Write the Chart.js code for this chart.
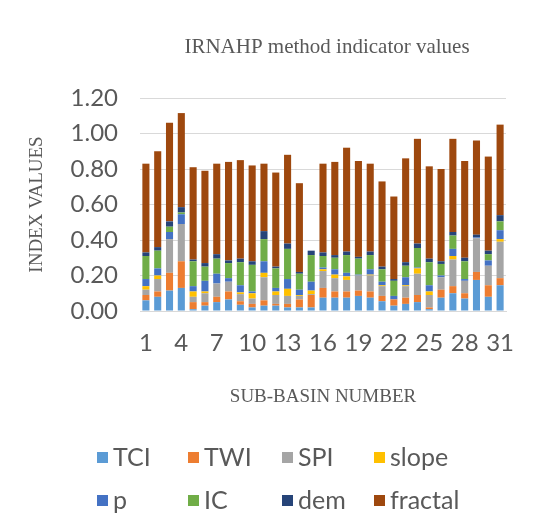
<!DOCTYPE html>
<html>
<head>
<meta charset="utf-8">
<script src="https://cdn.jsdelivr.net/npm/chart.js@4.4.1/dist/chart.umd.min.js"></script>
<style>
  html, body { margin: 0; padding: 0; background: #ffffff; }
  #wrap { position: relative; width: 548px; height: 530px; }
  #c { position: absolute; left: 0; top: 0; }
  .lg { position: absolute; font-family: Lato, "Open Sans", sans-serif; font-size: 25px; color: #595959; line-height: 1; white-space: nowrap; }
  .lg i { display: inline-block; width: 11px; height: 11px; margin-right: 5px; vertical-align: 3px; }
</style>
</head>
<body>
<div id="wrap">
  <canvas id="c" width="548" height="530"></canvas>
  <div id="legend"></div>
</div>
<script>
const categories = Array.from({length: 31}, (_, i) => String(i + 1));
const seriesNames = ['TCI', 'TWI', 'SPI', 'slope', 'p', 'IC', 'dem', 'fractal'];
const seriesColors = ['#5B9BD5', '#ED7D31', '#A5A5A5', '#FFC000', '#4472C4', '#70AD47', '#264478', '#9E480E'];

const TCI     = [0.06, 0.08, 0.115, 0.13, 0.01, 0.03, 0.05, 0.065, 0.035, 0.02, 0.03, 0.03, 0.02, 0.02, 0.02, 0.075, 0.075, 0.075, 0.085, 0.075, 0.055, 0.03, 0.04, 0.05, 0.01, 0.075, 0.10, 0.07, 0.175, 0.08, 0.145];
const TWI     = [0.03, 0.03, 0.10, 0.15, 0.04, 0.02, 0.03, 0.045, 0.02, 0.02, 0.03, 0.01, 0.02, 0.045, 0.07, 0.055, 0.035, 0.035, 0.03, 0.035, 0.03, 0.035, 0.035, 0.04, 0.01, 0.045, 0.04, 0.03, 0.045, 0.065, 0.04];
const SPI     = [0.03, 0.07, 0.19, 0.21, 0.03, 0.05, 0.075, 0.055, 0.04, 0.03, 0.13, 0.05, 0.045, 0.02, 0.005, 0.095, 0.075, 0.065, 0.085, 0.09, 0.055, 0.0, 0.065, 0.12, 0.07, 0.07, 0.15, 0.07, 0.19, 0.11, 0.205];
const slope   = [0.02, 0.02, 0.0, 0.0, 0.03, 0.01, 0.0, 0.0, 0.01, 0.03, 0.025, 0.02, 0.04, 0.005, 0.02, 0.01, 0.02, 0.02, 0.0, 0.005, 0.005, 0.0, 0.005, 0.03, 0.02, 0.0, 0.02, 0.0, 0.0, 0.0, 0.015];
const p       = [0.04, 0.04, 0.04, 0.055, 0.03, 0.06, 0.055, 0.02, 0.04, 0.01, 0.065, 0.02, 0.055, 0.03, 0.05, 0.01, 0.03, 0.02, 0.005, 0.03, 0.02, 0.02, 0.045, 0.005, 0.035, 0.01, 0.04, 0.01, 0.005, 0.03, 0.05];
const IC      = [0.13, 0.10, 0.03, 0.01, 0.14, 0.08, 0.085, 0.085, 0.13, 0.15, 0.125, 0.11, 0.17, 0.09, 0.15, 0.065, 0.065, 0.10, 0.09, 0.08, 0.07, 0.085, 0.065, 0.11, 0.13, 0.065, 0.075, 0.10, 0.0, 0.035, 0.05];
const dem     = [0.02, 0.02, 0.03, 0.03, 0.01, 0.02, 0.025, 0.015, 0.02, 0.02, 0.045, 0.01, 0.03, 0.01, 0.025, 0.02, 0.015, 0.02, 0.01, 0.02, 0.015, 0.01, 0.02, 0.025, 0.02, 0.015, 0.02, 0.02, 0.015, 0.02, 0.035];
const fractal = [0.50, 0.54, 0.555, 0.53, 0.52, 0.52, 0.51, 0.555, 0.555, 0.54, 0.38, 0.53, 0.50, 0.50, 0.0, 0.50, 0.525, 0.585, 0.54, 0.495, 0.48, 0.465, 0.585, 0.59, 0.52, 0.52, 0.525, 0.545, 0.53, 0.53, 0.51];
const yTicks = [0, 0.2, 0.4, 0.6, 0.8, 1.0, 1.2];
const titleText = 'IRNAHP method indicator values';
const yTitle = 'INDEX VALUES';
const xTitle = 'SUB-BASIN NUMBER';

const seriesValues = [TCI, TWI, SPI, slope, p, IC, dem, fractal];
const datasets = seriesNames.map((n, i) => ({
  label: n,
  data: seriesValues[i],
  backgroundColor: seriesColors[i],
  borderWidth: 0,
  categoryPercentage: 1.0,
  barPercentage: 0.6
}));

const txtColor = '#595959';
const titlePlugin = {
  id: 'customTitle',
  afterDraw(chart) {
    const ctx = chart.ctx, a = chart.chartArea;
    ctx.save();
    ctx.font = '21px "Liberation Serif", "Times New Roman", serif';
    ctx.fillStyle = txtColor;
    ctx.textAlign = 'center';
    ctx.textBaseline = 'middle';
    ctx.fillText(titleText, (a.left + a.right) / 2 + 4, 47);
    ctx.restore();
  }
};

new Chart(document.getElementById('c'), {
  type: 'bar',
  data: { labels: categories, datasets },
  options: {
    responsive: false,
    animation: false,
    layout: { padding: { left: 20, right: 42, top: 98, bottom: 119 } },
    plugins: { legend: { display: false }, title: { display: false }, tooltip: { enabled: false } },
    scales: {
      x: {
        stacked: true,
        grid: { display: false, drawTicks: false },
        border: { display: true, color: '#D9D9D9' },
        afterFit(s) { s.height = 100; },
        ticks: {
          autoSkip: false, maxRotation: 0, minRotation: 0, padding: 18,
          color: txtColor, font: { family: 'Lato', size: 24 },
          callback(v, i) { return i % 3 === 0 ? categories[i] : ''; }
        },
        title: { display: true, text: xTitle, color: txtColor, font: { family: '"Liberation Serif"', size: 19 }, padding: { top: 4, bottom: 3 } }
      },
      y: {
        stacked: true,
        min: 0, max: 1.2,
        afterFit(s) { s.width = 120; },
        afterBuildTicks(s) { s.ticks = yTicks.map(v => ({ value: v })); },
        grid: { color: '#D9D9D9', drawTicks: false },
        border: { display: false },
        ticks: { padding: 22, color: txtColor, font: { family: 'Lato', size: 24 }, callback(v) { return Number(v).toFixed(2); } },
        title: { display: true, text: yTitle, color: txtColor, font: { family: '"Liberation Serif"', size: 19 }, padding: { top: 6, bottom: 4 } }
      }
    }
  },
  plugins: [titlePlugin]
});

// HTML legend laid out in a 4x2 grid as in the reference
const legendX = [97, 188, 282, 374];
const legendY = [444, 487];
const lg = document.getElementById('legend');
seriesNames.forEach((n, i) => {
  const d = document.createElement('div');
  d.className = 'lg';
  d.style.left = legendX[i % 4] + 'px';
  d.style.top = legendY[Math.floor(i / 4)] + 'px';
  d.innerHTML = '<i style="background:' + seriesColors[i] + '"></i>' + n;
  lg.appendChild(d);
});
</script>
</body>
</html>
